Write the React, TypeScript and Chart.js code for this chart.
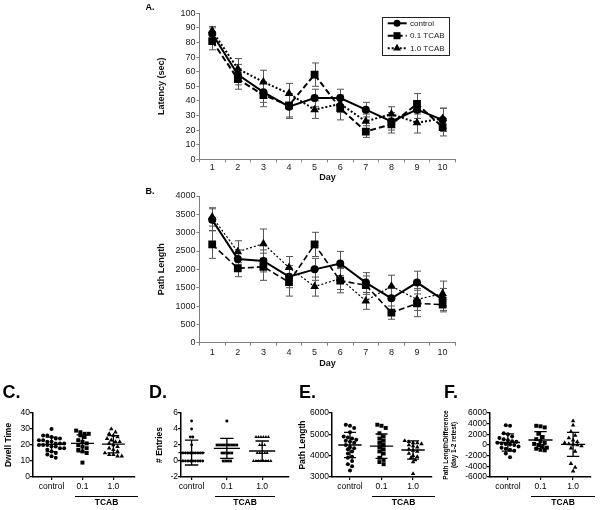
import React, { useEffect, useRef } from "react";
import { Chart, registerables } from "chart.js";
Chart.register(...registerables);

// ---------------- data ----------------
const days = ["1", "2", "3", "4", "5", "6", "7", "8", "9", "10"];
const seriesNames = ["control", "0.1 TCAB", "1.0 TCAB"];

const latencyControl = [86, 58, 46, 36, 42, 42, 34, 26, 34, 27];
const latencyControlErr = [4, 7, 7, 8, 6, 6, 5, 6, 6, 8];
const latencyTcab01 = [81, 55, 44, 37, 58, 35, 19, 24, 38, 22];
const latencyTcab01Err = [6, 7, 8, 8, 8, 8, 4, 6, 7, 6];
const latencyTcab10 = [88, 62, 53, 45, 34, 38, 26, 31, 25, 28];
const latencyTcab10Err = [3, 7, 8, 7, 6, 6, 5, 5, 7, 7];

const pathControl = [3350, 2280, 2230, 1800, 2000, 2160, 1640, 1210, 1640, 1180];
const pathControlErr = [300, 250, 300, 300, 300, 330, 270, 330, 310, 300];
const pathTcab01 = [2680, 2030, 2070, 1650, 2680, 1690, 1570, 820, 1070, 1040];
const pathTcab01Err = [380, 230, 370, 380, 330, 330, 250, 180, 360, 200];
const pathTcab10 = [3430, 2480, 2700, 2050, 1530, 1750, 1140, 1540, 1180, 1340];
const pathTcab10Err = [250, 300, 400, 300, 260, 300, 230, 300, 300, 340];

const groupLabels = ["control", "0.1", "1.0"];

const dwellControl = [30, 26, 26, 25, 24, 24, 23, 23, 22, 22, 21, 21, 21, 20, 20, 20, 19, 19, 18, 18, 17, 16, 15, 14, 13, 12];
const dwellTcab01 = [29, 28, 27, 27, 26, 25, 23, 22, 21, 20, 19, 18, 17, 16, 15, 9];
const dwellTcab10 = [30, 28, 27, 26, 25, 24, 23, 22, 22, 21, 20, 19, 18, 17, 16, 15, 14, 14, 13, 13];
const dwellMeans = [20.4, 21, 20.5];
const dwellSds = [4.5, 5.3, 5.4];

const entriesControl = [5, 4, 3, 3, 2, 1, 1, 1, 1, 1, 1, 1, 1, 1, 1, 0, 0, 0, 0, 0, 0, 0, 0, 0, 0];
const entriesTcab01 = [5, 2, 2, 2, 2, 2, 2, 2, 2, 2, 1, 1, 1, 1, 1, 0, 0, 0, 0];
const entriesTcab10 = [3, 3, 3, 3, 3, 3, 2, 2, 2, 1, 1, 1, 1, 1, 0, 0, 0, 0, 0, 0, 0, 0];
const entriesMeans = [1.05, 1.58, 1.25];
const entriesSds = [1.55, 1.25, 1.25];

const plControl = [5450, 5400, 5300, 5100, 4900, 4850, 4800, 4750, 4700, 4650, 4600, 4500, 4400, 4350, 4300, 4200, 4100, 3950, 3900, 3750, 3600, 3500, 3300];
const plTcab01 = [5450, 5400, 5300, 5050, 4900, 4800, 4700, 4600, 4500, 4400, 4300, 4200, 4100, 3900, 3800, 3700, 3600];
const plTcab10 = [4700, 4650, 4600, 4600, 4550, 4500, 4450, 4400, 4300, 4250, 4200, 4100, 4000, 3950, 3900, 3800, 3700, 3150];
const plMeans = [4500, 4445, 4265];
const plSds = [590, 570, 425];

const diffControl = [3700, 3600, 2200, 2000, 1600, 1300, 1100, 900, 700, 600, 400, 300, 200, 100, 0, -300, -500, -700, -900, -1100, -1600, -2300];
const diffTcab01 = [3600, 3500, 3300, 2100, 1500, 1100, 700, 400, 200, 0, -200, -500, -700, -900, -1000];
const diffTcab10 = [4500, 3700, 2500, 1800, 1300, 900, 600, 400, 200, 100, 0, -200, -600, -1200, -3500, -4200, -4900];
const diffMeans = [470, 940, 100];
const diffSds = [1600, 1560, 2250];

// ---------------- styling ----------------
const FONT_TOP = "'Liberation Sans', Arial, Helvetica, sans-serif";
const FONT_BOT = "'Liberation Sans', Arial, Helvetica, sans-serif";
const BOT_SIZE = 8.5;

const plain = (v: any) => String(v);

function drawMarker(ctx: CanvasRenderingContext2D, style: string, x: number, y: number, r: number) {
  ctx.beginPath();
  if (style === "circle") {
    ctx.arc(x, y, r, 0, Math.PI * 2);
  } else if (style === "rect") {
    const s = r * Math.SQRT1_2;
    ctx.rect(x - s, y - s, 2 * s, 2 * s);
  } else {
    ctx.moveTo(x, y - r);
    ctx.lineTo(x + r * 0.866, y + r * 0.5);
    ctx.lineTo(x - r * 0.866, y + r * 0.5);
    ctx.closePath();
  }
  ctx.fill();
}

const errorBarPlugin = {
  id: "errorBars",
  beforeDatasetsDraw(chart: any) {
    const { ctx } = chart;
    const x = chart.scales.x;
    const y = chart.scales.y;
    ctx.save();
    ctx.strokeStyle = "#555";
    ctx.lineWidth = 1;
    ctx.setLineDash([]);
    chart.data.datasets.forEach((ds: any) => {
      if (!ds.errors) return;
      ds.data.forEach((v: number, i: number) => {
        const e = ds.errors[i];
        const px = Math.round(x.getPixelForValue(i)) + 0.5;
        const yt = y.getPixelForValue(v + e);
        const yb = y.getPixelForValue(v - e);
        ctx.beginPath();
        ctx.moveTo(px, yt);
        ctx.lineTo(px, yb);
        ctx.moveTo(px - 3.5, yt);
        ctx.lineTo(px + 3.5, yt);
        ctx.moveTo(px - 3.5, yb);
        ctx.lineTo(px + 3.5, yb);
        ctx.stroke();
      });
    });
    ctx.restore();
  },
};

const boxLegendPlugin = {
  id: "boxLegend",
  afterDraw(chart: any, _args: any, o: any) {
    if (!o || !o.box) return;
    const { ctx } = chart;
    ctx.save();
    ctx.strokeStyle = "#222";
    ctx.lineWidth = 1;
    ctx.setLineDash([]);
    const [bx, by, bw, bh] = o.box;
    ctx.strokeRect(bx + 0.5, by + 0.5, bw, bh);
    chart.data.datasets.forEach((ds: any, i: number) => {
      const ry = o.rows[i];
      ctx.strokeStyle = "#000";
      ctx.lineWidth = ds.borderWidth;
      ctx.setLineDash(ds.borderDash || []);
      ctx.beginPath();
      ctx.moveTo(o.lineX[0], ry);
      ctx.lineTo(o.lineX[1], ry);
      ctx.stroke();
      ctx.setLineDash([]);
      ctx.fillStyle = "#000";
      drawMarker(ctx, ds.pointStyle, o.markX, ry, o.markR[i]);
      ctx.fillStyle = "#222";
      ctx.font = `8px ${FONT_TOP}`;
      ctx.textBaseline = "middle";
      ctx.textAlign = "left";
      ctx.fillText(ds.label, o.textX, ry);
    });
    ctx.restore();
  },
};

const meanSdPlugin = {
  id: "meanSd",
  afterDatasetsDraw(chart: any, _args: any, o: any) {
    const { ctx } = chart;
    const x = chart.scales.x;
    const y = chart.scales.y;
    ctx.save();
    ctx.strokeStyle = "#000";
    ctx.lineWidth = 1.3;
    o.means.forEach((m: number, i: number) => {
      const s = o.sds[i];
      const xc = x.getPixelForValue(i);
      const ym = y.getPixelForValue(m);
      const yt = y.getPixelForValue(m + s);
      const yb = y.getPixelForValue(m - s);
      ctx.beginPath();
      ctx.moveTo(x.getPixelForValue(i - o.half), ym);
      ctx.lineTo(x.getPixelForValue(i + o.half), ym);
      ctx.moveTo(xc, yt);
      ctx.lineTo(xc, yb);
      ctx.moveTo(x.getPixelForValue(i - o.cap), yt);
      ctx.lineTo(x.getPixelForValue(i + o.cap), yt);
      ctx.moveTo(x.getPixelForValue(i - o.cap), yb);
      ctx.lineTo(x.getPixelForValue(i + o.cap), yb);
      ctx.stroke();
    });
    ctx.restore();
  },
};

// deterministic side-by-side layout of points with similar values
function spread(values: number[], center: number, bin: number, step: number) {
  const sorted = [...values].sort((a, b) => b - a);
  const bins: number[][] = [];
  for (const v of sorted) {
    const last = bins[bins.length - 1];
    if (last && Math.abs(last[0] - v) <= bin) last.push(v);
    else bins.push([v]);
  }
  const pts: { x: number; y: number }[] = [];
  bins.forEach((b) => b.forEach((v, i) => pts.push({ x: center + (i - (b.length - 1) / 2) * step, y: v })));
  return pts;
}

const seriesStyles = [
  { style: "circle", dash: [] as number[] },
  { style: "rect", dash: [6, 3] },
  { style: "triangle", dash: [2, 2] },
];

function lineConfig(p: any) {
  return {
    type: "line",
    data: {
      labels: days,
      datasets: p.values.map((vals: number[], i: number) => ({
        label: seriesNames[i],
        data: vals,
        errors: p.errors[i],
        borderColor: "#000",
        backgroundColor: "#000",
        pointBackgroundColor: "#000",
        pointBorderWidth: 0,
        borderWidth: p.widths[i],
        borderDash: seriesStyles[i].dash,
        pointStyle: seriesStyles[i].style,
        pointRadius: p.radii[i],
        tension: 0,
        fill: false,
      })),
    },
    options: {
      responsive: false,
      animation: false,
      events: [],
      layout: { padding: { left: 0, top: p.padTop, right: p.padRight, bottom: 0 } },
      plugins: {
        legend: { display: false },
        tooltip: { enabled: false },
        boxLegend: p.legend || {},
      },
      scales: {
        x: {
          type: "category",
          offset: true,
          grid: { offset: true, drawOnChartArea: false, tickLength: 3, color: "#808080" },
          border: { color: "#808080" },
          ticks: { color: "#222", font: { family: FONT_TOP, size: 9 }, padding: p.xTickPad, maxRotation: 0, autoSkip: false },
          title: {
            display: true,
            text: "Day",
            color: "#111",
            font: { family: FONT_TOP, size: 9, weight: "bold" },
            padding: { top: 0, bottom: p.dayPad },
          },
          afterFit: (s: any) => {
            s.height = p.xHeight;
          },
        },
        y: {
          min: p.yMin,
          max: p.yMax,
          grid: { drawOnChartArea: false, tickLength: 3, color: "#808080" },
          border: { color: "#808080" },
          ticks: { stepSize: p.yStep, callback: plain, autoSkip: false, color: "#222", font: { family: FONT_TOP, size: 9 }, padding: 1 },
          title: {
            display: true,
            text: p.yTitle,
            color: "#111",
            font: { family: FONT_TOP, size: 9, weight: "bold" },
            padding: { top: p.yTitlePad, bottom: 0 },
          },
          afterFit: (s: any) => {
            s.width = p.yWidth;
          },
        },
      },
    },
    plugins: [errorBarPlugin, boxLegendPlugin],
  };
}

function dotConfig(p: any) {
  const styles = ["circle", "rect", "triangle"];
  return {
    type: "scatter",
    data: {
      datasets: p.groups.map((vals: number[], gi: number) => ({
        data: spread(vals, gi, p.bin, p.step),
        pointStyle: styles[gi],
        pointRadius: p.radius[gi],
        pointBackgroundColor: "#000",
        backgroundColor: "#000",
        borderColor: "#000",
        pointBorderWidth: 0,
        showLine: false,
      })),
    },
    options: {
      responsive: false,
      animation: false,
      events: [],
      layout: { padding: { left: 0, top: p.padTop, right: p.padRight, bottom: 0 } },
      plugins: {
        legend: { display: false },
        tooltip: { enabled: false },
        meanSd: { means: p.means, sds: p.sds, half: p.meanHalf, cap: p.capHalf },
      },
      scales: {
        x: {
          type: "linear",
          min: p.xMin,
          max: p.xMax,
          afterBuildTicks: (s: any) => {
            s.ticks = groupLabels.map((_, i) => ({ value: i }));
          },
          ticks: {
            callback: (v: number) => groupLabels[v],
            font: { family: FONT_BOT, size: BOT_SIZE },
            color: "#000",
            padding: 1.5,
            maxRotation: 0,
            autoSkip: false,
          },
          grid: { drawOnChartArea: false, tickLength: 3, color: "#000", lineWidth: 1.2 },
          border: { color: "#000", width: 1.5 },
          afterFit: (s: any) => {
            s.height = p.xHeight;
          },
        },
        y: {
          min: p.yMin,
          max: p.yMax,
          ticks: { stepSize: p.yStep, callback: plain, autoSkip: false, font: { family: FONT_BOT, size: BOT_SIZE }, color: "#000", padding: 0 },
          grid: { drawOnChartArea: false, tickLength: 3, color: "#000", lineWidth: 1.2 },
          border: { color: "#000", width: 1.5 },
          title: {
            display: true,
            text: p.yTitle,
            color: "#000",
            font: { family: FONT_BOT, size: p.titleSize, weight: "bold", lineHeight: p.titleLH },
            padding: { top: p.titlePad, bottom: 0 },
          },
          afterFit: (s: any) => {
            s.width = p.yWidth;
          },
        },
      },
    },
    plugins: [meanSdPlugin],
  };
}

function ChartCanvas({ left, top, width, height, config }: any) {
  const ref = useRef<HTMLCanvasElement>(null);
  useEffect(() => {
    const chart = new Chart(ref.current as HTMLCanvasElement, config() as any);
    return () => chart.destroy();
  }, []);
  return (
    <canvas
      ref={ref}
      width={width}
      height={height}
      style={{ position: "absolute", left, top, width, height }}
    />
  );
}

function Label({ left, top, size, text, family = FONT_TOP, bold = true }: any) {
  return (
    <div
      style={{
        position: "absolute",
        left,
        top,
        fontFamily: family,
        fontSize: size,
        lineHeight: `${size}px`,
        fontWeight: bold ? "bold" : "normal",
        whiteSpace: "nowrap",
        color: "#000",
      }}
    >
      {text}
    </div>
  );
}

function Tcab({ left, width }: any) {
  return (
    <>
      <div style={{ position: "absolute", left, top: 495.5, width, height: 0, borderTop: "1.5px solid #000" }} />
      <div
        style={{
          position: "absolute",
          left,
          top: 498,
          width,
          textAlign: "center",
          fontFamily: FONT_BOT,
          fontWeight: "bold",
          fontSize: 8.5,
          lineHeight: "9px",
        }}
      >
        TCAB
      </div>
    </>
  );
}

const latencyPanel = {
  values: [latencyControl, latencyTcab01, latencyTcab10],
  errors: [latencyControlErr, latencyTcab01Err, latencyTcab10Err],
  widths: [2, 2, 2],
  radii: [4, 5.5, 5],
  yMin: 0,
  yMax: 100,
  yStep: 10,
  yTitle: "Latency (sec)",
  yTitlePad: 16.6,
  yWidth: 59.4,
  padTop: 13.3,
  padRight: 14.6,
  xHeight: 25.7,
  xTickPad: 0,
  dayPad: 1.6,
  legend: {
    box: [242, 17, 67, 38],
    rows: [23.3, 35.7, 48.3],
    lineX: [247.7, 266.7],
    markX: 257,
    markR: [3.5, 5, 4.5],
    textX: 270,
  },
};

const pathPanel = {
  values: [pathControl, pathTcab01, pathTcab10],
  errors: [pathControlErr, pathTcab01Err, pathTcab10Err],
  widths: [2, 1.6, 1.2],
  radii: [4, 5.5, 5],
  yMin: 0,
  yMax: 4000,
  yStep: 500,
  yTitle: "Path Length",
  yTitlePad: 16.6,
  yWidth: 59.4,
  padTop: 11,
  padRight: 14.6,
  xHeight: 27.3,
  xTickPad: 1.2,
  dayPad: 1.3,
  legend: null,
};

const dotBase = { padTop: 13, xHeight: 23, meanHalf: 0.37, capHalf: 0.19 };

const dwellPanel = {
  ...dotBase,
  groups: [dwellControl, dwellTcab01, dwellTcab10],
  means: dwellMeans,
  sds: dwellSds,
  yMin: 0,
  yMax: 40,
  yStep: 10,
  yTitle: "Dwell Time",
  titleSize: 8.5,
  titleLH: 1.2,
  titlePad: 3.5,
  yWidth: 33,
  padRight: 5,
  xMin: -0.6,
  xMax: 2.7,
  bin: 2.5,
  step: 0.136,
  radius: [2, 2.8, 2.6],
};

const entriesPanel = {
  ...dotBase,
  groups: [entriesControl, entriesTcab01, entriesTcab10],
  means: entriesMeans,
  sds: entriesSds,
  yMin: -2,
  yMax: 6,
  yStep: 2,
  yTitle: "# Entries",
  titleSize: 8.5,
  titleLH: 1.2,
  titlePad: 9.5,
  yWidth: 36,
  padRight: 6,
  xMin: -0.3,
  xMax: 2.76,
  bin: 0.5,
  step: 0.07,
  radius: [1.4, 1.9, 1.9],
};

const pathLenPanel = {
  ...dotBase,
  groups: [plControl, plTcab01, plTcab10],
  means: plMeans,
  sds: plSds,
  yMin: 3000,
  yMax: 6000,
  yStep: 1000,
  yTitle: "Path Length",
  titleSize: 8.5,
  titleLH: 1.2,
  titlePad: 3,
  yWidth: 37,
  padRight: 8,
  xMin: -0.57,
  xMax: 2.6,
  bin: 190,
  step: 0.133,
  radius: [2, 2.8, 2.6],
};

const diffPanel = {
  ...dotBase,
  groups: [diffControl, diffTcab01, diffTcab10],
  means: diffMeans,
  sds: diffSds,
  yMin: -6000,
  yMax: 6000,
  yStep: 2000,
  yTitle: ["Path LengthDifference", "(day 1-2 retest)"],
  titleSize: 6.5,
  titleLH: 1.25,
  titlePad: 2.5,
  yWidth: 50,
  padRight: 9,
  xMin: -0.55,
  xMax: 2.55,
  bin: 750,
  step: 0.13,
  radius: [2, 2.8, 2.6],
};

export default function App() {
  return (
    <div style={{ position: "absolute", left: 0, top: 0, width: 600, height: 510, background: "#fff", overflow: "hidden" }}>
      <ChartCanvas left={140} top={0} width={330} height={185} config={() => lineConfig(latencyPanel)} />
      <ChartCanvas left={140} top={185} width={330} height={185} config={() => lineConfig(pathPanel)} />
      <ChartCanvas left={0} top={400} width={140} height={100} config={() => dotConfig(dwellPanel)} />
      <ChartCanvas left={145} top={400} width={150} height={100} config={() => dotConfig(entriesPanel)} />
      <ChartCanvas left={295} top={400} width={145} height={100} config={() => dotConfig(pathLenPanel)} />
      <ChartCanvas left={440} top={400} width={160} height={100} config={() => dotConfig(diffPanel)} />

      <Label left={145.5} top={3} size={9} text="A." />
      <Label left={145.5} top={187} size={9} text="B." />
      <Label left={2.5} top={382.5} size={18} text="C." />
      <Label left={149} top={382.5} size={18} text="D." />
      <Label left={299} top={382.5} size={18} text="E." />
      <Label left={444} top={382.5} size={18} text="F." />

      <Tcab left={75} width={63} />
      <Tcab left={215} width={60} />
      <Tcab left={372} width={63} />
      <Tcab left={531} width={64} />
    </div>
  );
}
